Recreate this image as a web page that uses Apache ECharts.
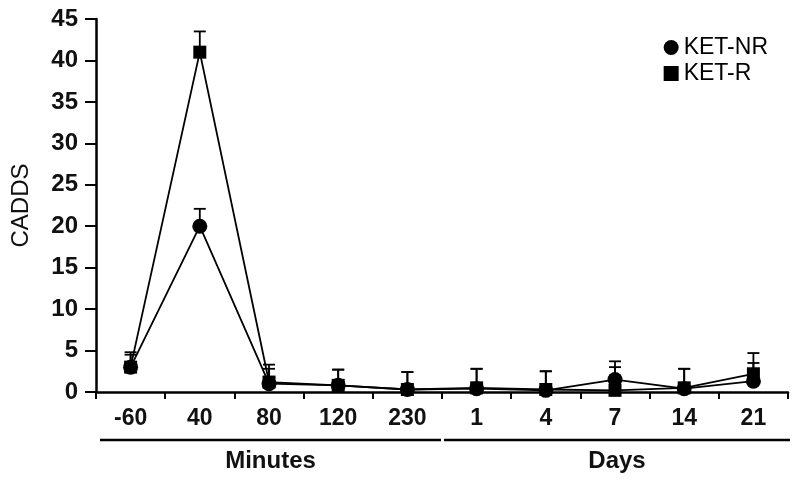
<!DOCTYPE html>
<html>
<head>
<meta charset="utf-8">
<script src="https://cdn.jsdelivr.net/npm/echarts@6/dist/echarts.min.js"></script>
<style>html,body{margin:0;padding:0;background:#fff}#c{width:800px;height:484px}</style>
</head>
<body>
<div id="c"></div>
<script>
var categories = ['-60', '40', '80', '120', '230', '1', '4', '7', '14', '21'];
var groups = ['Minutes', 'Days'];
var groupSizes = [5, 5];
var yTicks = [0, 45, 5];
var ketNR = [3.0, 20.0, 1.0, 0.8, 0.3, 0.4, 0.2, 1.5, 0.4, 1.3];
var ketNRUpper = [4.5, 22.1, 2.8, 2.7, 2.4, 2.8, 2.5, 3.7, 2.8, 3.5];
var ketR = [3.0, 41.0, 1.2, 0.8, 0.3, 0.5, 0.3, 0.2, 0.5, 2.2];
var ketRUpper = [4.8, 43.5, 3.3, 2.7, 2.4, 2.8, 2.5, 3.0, 2.8, 4.7];

var FONT = 'Liberation Sans, Arial, sans-serif';

function errData(vals, ups) {
  return vals.map(function (v, i) { return [i, v, ups[i]]; });
}
function renderErr(params, api) {
  var i = api.value(0);
  var p0 = api.coord([i, api.value(1)]);
  var p1 = api.coord([i, api.value(2)]);
  var hw = 6;
  var st = { stroke: '#000', lineWidth: 1.8 };
  return {
    type: 'group',
    children: [
      { type: 'line', shape: { x1: p0[0], y1: p0[1], x2: p1[0], y2: p1[1] }, style: st },
      { type: 'line', shape: { x1: p1[0] - hw, y1: p1[1], x2: p1[0] + hw, y2: p1[1] }, style: st }
    ]
  };
}

var chart = echarts.init(document.getElementById('c'));
var option = {
  animation: false,
  backgroundColor: '#fff',
  grid: { left: 96, right: 12, top: 19, bottom: 92, containLabel: false, outerBoundsMode: 'none' },
  legend: {
    orient: 'vertical',
    right: 27,
    top: 31,
    itemGap: 3,
    itemWidth: 15,
    itemHeight: 15,
    textStyle: { fontFamily: FONT, fontSize: 23, color: '#000' },
    data: [
      { name: 'KET-NR', icon: 'circle' },
      { name: 'KET-R', icon: 'rect' }
    ]
  },
  xAxis: {
    type: 'category',
    data: categories,
    boundaryGap: true,
    axisLine: { lineStyle: { color: '#000', width: 2.5 } },
    axisTick: { show: true, length: 7, lineStyle: { color: '#000', width: 2 } },
    axisLabel: { fontFamily: FONT, fontSize: 23, fontWeight: 'bold', color: '#111', margin: 15 }
  },
  yAxis: {
    type: 'value',
    min: yTicks[0], max: yTicks[1], interval: yTicks[2],
    name: 'CADDS',
    nameLocation: 'middle',
    nameGap: 63,
    nameTextStyle: { fontFamily: FONT, fontSize: 24, color: '#111' },
    splitLine: { show: false },
    axisLine: { show: true, lineStyle: { color: '#000', width: 2.5 } },
    axisTick: { show: true, length: 11, lineStyle: { color: '#000', width: 2 } },
    axisLabel: { fontFamily: FONT, fontSize: 24, fontWeight: 'bold', color: '#111', margin: 18 }
  },
  series: [
    {
      name: 'KET-NR-err', type: 'custom', renderItem: renderErr,
      data: errData(ketNR, ketNRUpper), z: 1, silent: true,
      encode: { x: 0, y: [1, 2] }
    },
    {
      name: 'KET-R-err', type: 'custom', renderItem: renderErr,
      data: errData(ketR, ketRUpper), z: 1, silent: true,
      encode: { x: 0, y: [1, 2] }
    },
    {
      name: 'KET-NR', type: 'line', data: ketNR,
      symbol: 'circle', symbolSize: 15,
      itemStyle: { color: '#000' },
      lineStyle: { color: '#000', width: 1.8 }, z: 3
    },
    {
      name: 'KET-R', type: 'line', data: ketR,
      symbol: 'rect', symbolSize: 13,
      itemStyle: { color: '#000' },
      lineStyle: { color: '#000', width: 1.8 }, z: 3
    }
  ]
};
chart.setOption(option);

// group brackets under category labels
var c0 = chart.convertToPixel({ xAxisIndex: 0 }, 0);
var c1 = chart.convertToPixel({ xAxisIndex: 0 }, 1);
var band = c1 - c0;
var left0 = c0 - band / 2;
var gfx = [];
var start = 0;
groups.forEach(function (g, gi) {
  var x1 = left0 + start * band + (gi === 0 ? 4 : 2);
  var x2 = left0 + (start + groupSizes[gi]) * band - (gi === 0 ? 1 : -2);
  gfx.push({ type: 'line', shape: { x1: x1, y1: 440, x2: x2, y2: 440 }, style: { stroke: '#000', lineWidth: 2.5 } });
  gfx.push({ type: 'text', x: (x1 + x2) / 2, y: 461, style: { text: g, fontFamily: FONT, fontSize: 24, fontWeight: 'bold', fill: '#111', textAlign: 'center', textVerticalAlign: 'middle' } });
  start += groupSizes[gi];
});
chart.setOption({ graphic: gfx });
</script>
</body>
</html>
